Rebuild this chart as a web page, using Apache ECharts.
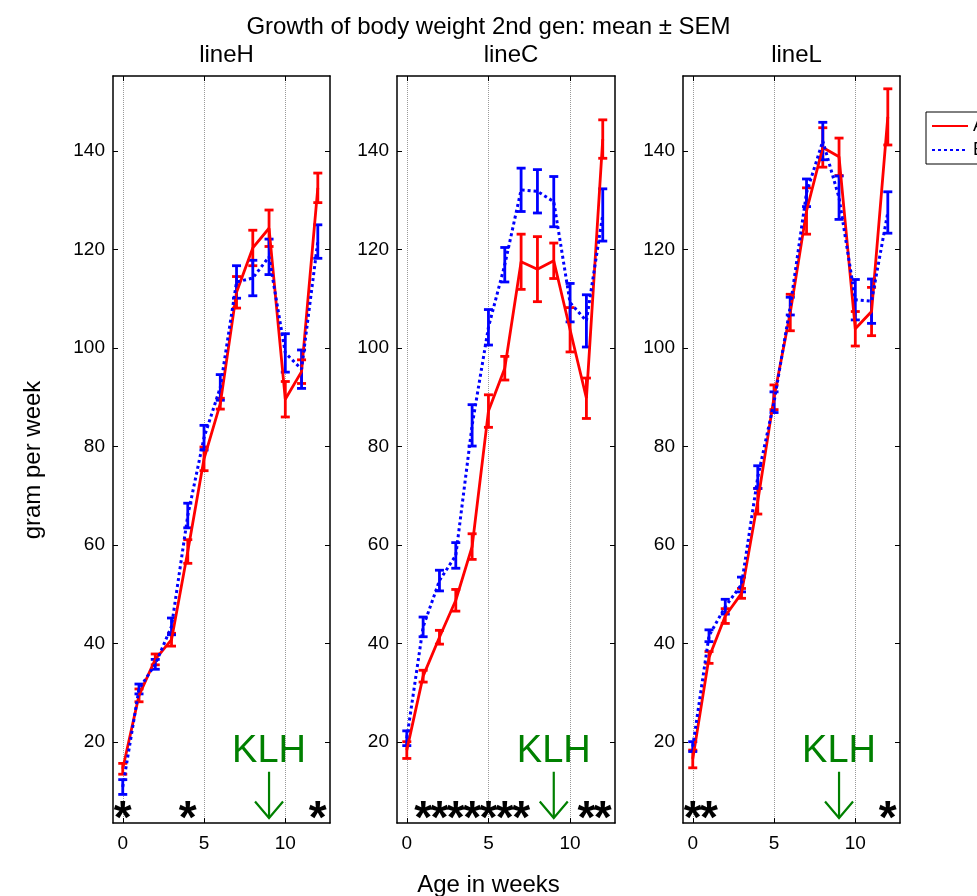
<!DOCTYPE html>
<html><head><meta charset="utf-8">
<script src="https://cdn.jsdelivr.net/npm/echarts@6/dist/echarts.min.js"></script>
<style>html,body{margin:0;padding:0;background:#fff}#c{width:977px;height:896px}</style>
</head><body><div id="c"></div>
<script>
// ---------- data ----------
const weeks = [0,1,2,3,4,5,6,7,8,9,10,11,12];
const panelNames = ['lineH','lineC','lineL'];
const xTicks = [0,5,10];
const yTicks = [20,40,60,80,100,120,140];

// lineH
const hMeanA = [14.6, 29.5, 36.8, 40.8, 58.7, 77.5, 88.7, 111.3, 120.3, 124.3, 89.6, 95.2, 132.5];
const hSemA  = [1.1, 1.3, 1.1, 1.3, 2.4, 2.4, 1.1, 3.2, 3.6, 3.7, 3.6, 2.4, 3.0];
const hMeanB = [10.9, 30.8, 35.8, 43.5, 66.0, 81.8, 92.0, 113.4, 114.2, 118.5, 99.0, 95.7, 121.6];
const hSemB  = [1.5, 1.0, 1.0, 1.7, 2.5, 2.5, 2.6, 3.3, 3.6, 3.6, 3.9, 3.9, 3.4];
// lineC
const cMeanA = [18.4, 33.4, 41.3, 48.8, 59.7, 87.2, 95.9, 117.5, 116.0, 117.7, 103.7, 89.8, 142.4];
const cSemA  = [1.7, 1.2, 1.4, 2.2, 2.6, 3.3, 2.4, 5.6, 6.6, 3.6, 4.5, 4.1, 3.9];
const cMeanB = [20.8, 43.4, 52.8, 57.9, 84.3, 104.2, 116.9, 132.1, 131.8, 129.7, 109.2, 105.5, 127.0];
const cSemB  = [1.5, 2.0, 2.1, 2.6, 4.2, 3.6, 3.5, 4.4, 4.4, 5.1, 3.9, 5.3, 5.3];
// lineL
const lMeanA = [16.6, 37.2, 45.6, 50.2, 68.9, 90.0, 107.2, 127.8, 140.7, 138.8, 103.9, 107.4, 146.9];
const lSemA  = [1.8, 1.2, 1.5, 1.0, 2.6, 2.5, 3.7, 4.7, 4.0, 3.8, 3.5, 4.9, 5.7];
const lMeanB = [19.1, 41.6, 47.5, 52.0, 73.8, 89.0, 108.5, 131.5, 142.0, 130.5, 109.8, 109.5, 127.5];
const lSemB  = [1.0, 1.2, 1.5, 1.5, 2.3, 2.1, 1.8, 2.8, 3.8, 4.4, 4.1, 4.5, 4.2];

// significance stars (weeks)
const sigH = [0, 4, 12];
const sigC = [1, 2, 3, 4, 5, 6, 7, 11, 12];
const sigL = [0, 1, 12];
const starY = 4.2;
// KLH annotation
const klhWeek = 9;
const klhTextY = 18.1;
const klhArrowTop = 14;
const klhArrowTip = 4.6;

const meansA = [hMeanA, cMeanA, lMeanA];
const semsA = [hSemA, cSemA, lSemA];
const meansB = [hMeanB, cMeanB, lMeanB];
const semsB = [hSemB, cSemB, lSemB];
const sigs = [sigH, sigC, sigL];

// ---------- layout ----------
const FF = 'Liberation Sans, Arial, sans-serif';
const gridLefts = [113, 397, 683];
const gridWidths = [217, 218, 217];
const gridTop = 76, gridHeight = 747;
const xMin = -0.6, xMax = 12.75;
const yMin = 3.6, yMax = 155.2;
const RED = '#ff0000', BLUE = '#0000ff', GREEN = '#008000';

const chart = echarts.init(document.getElementById('c'), null, {renderer:'canvas'});

const grids = [], xAxes = [], yAxes = [], series = [], titles = [];
titles.push({text:'Growth of body weight 2nd gen: mean ± SEM', left:'center', top:10,
  textStyle:{fontSize:24, fontWeight:'normal', color:'#000', fontFamily:FF}});
titles.push({text:'Age in weeks', left:'center', top:868,
  textStyle:{fontSize:24, fontWeight:'normal', color:'#000', fontFamily:FF}});

const axLine = {show:true, onZero:false, lineStyle:{color:'#000', width:1.5}};

for (let i = 0; i < 3; i++) {
  grids.push({left:gridLefts[i], top:gridTop, width:gridWidths[i], height:gridHeight, containLabel:false});
  titles.push({text:panelNames[i], left:gridLefts[i] + gridWidths[i]/2, top:38, textAlign:'center',
    textStyle:{fontSize:24, fontWeight:'normal', color:'#000', fontFamily:FF}});
  xAxes.push({type:'value', gridIndex:i, position:'bottom', min:xMin, max:xMax,
    axisLine:axLine,
    axisTick:{show:true, inside:true, length:5, customValues:xTicks, lineStyle:{color:'#000', width:1}},
    axisLabel:{show:true, customValues:xTicks, fontSize:19, color:'#000', margin:11, fontFamily:FF},
    splitLine:{show:true, lineStyle:{color:'#999', type:'dotted', width:1}}});
  xAxes.push({type:'value', gridIndex:i, position:'top', min:xMin, max:xMax,
    axisLine:axLine,
    axisTick:{show:true, inside:true, length:5, customValues:xTicks, lineStyle:{color:'#000', width:1}},
    axisLabel:{show:false}, splitLine:{show:false}});
  yAxes.push({type:'value', gridIndex:i, position:'left', min:yMin, max:yMax,
    axisLine:axLine,
    axisTick:{show:true, inside:true, length:5, customValues:yTicks, lineStyle:{color:'#000', width:1}},
    axisLabel:{show:true, customValues:yTicks, fontSize:19, color:'#000', margin:8, fontFamily:FF},
    splitLine:{show:false}});
  yAxes.push({type:'value', gridIndex:i, position:'right', min:yMin, max:yMax,
    axisLine:axLine,
    axisTick:{show:true, inside:true, length:5, customValues:yTicks, lineStyle:{color:'#000', width:1}},
    axisLabel:{show:false}, splitLine:{show:false}});

  const xi = i*2, yi = i*2;
  const addSeries = (name, color, mean, sem, dotted) => {
    series.push({type:'line', name, xAxisIndex:xi, yAxisIndex:yi, symbol:'none', clip:false,
      data: weeks.map((w,k)=>[w, mean[k]]),
      lineStyle:{color, width:dotted ? 3 : 2.8, type: dotted ? [3,3] : 'solid'}, itemStyle:{color}});
    series.push({type:'custom', name, xAxisIndex:xi, yAxisIndex:yi,
      data: weeks.map((w,k)=>[w, mean[k]-sem[k], mean[k]+sem[k]]),
      encode:{x:0, y:[1,2]}, itemStyle:{color},
      renderItem(params, api){
        const x = api.value(0);
        const p1 = api.coord([x, api.value(1)]);
        const p2 = api.coord([x, api.value(2)]);
        const hw = 4.5;
        const st = {stroke:color, lineWidth:2.8, fill:null};
        return {type:'group', children:[
          {type:'line', shape:{x1:p1[0], y1:p1[1], x2:p2[0], y2:p2[1]}, style:st},
          {type:'line', shape:{x1:p1[0]-hw, y1:p1[1], x2:p1[0]+hw, y2:p1[1]}, style:st},
          {type:'line', shape:{x1:p2[0]-hw, y1:p2[1], x2:p2[0]+hw, y2:p2[1]}, style:st}
        ]};
      }});
  };
  addSeries('A', RED, meansA[i], semsA[i], false);
  addSeries('B', BLUE, meansB[i], semsB[i], true);

  // stars
  series.push({type:'custom', name:'sig'+i, xAxisIndex:xi, yAxisIndex:yi,
    data: sigs[i].map(w=>[w, starY]), encode:{x:0, y:1},
    renderItem(params, api){
      const p = api.coord([api.value(0), api.value(1)]);
      return {type:'text', x:p[0], y:p[1], style:{text:'*', fill:'#000', fontSize:46,
        fontFamily:FF, fontWeight:'bold', align:'center', verticalAlign:'middle'}};
    }});
  // KLH text + arrow
  series.push({type:'custom', name:'klh'+i, xAxisIndex:xi, yAxisIndex:yi,
    data: [[klhWeek, klhTextY, klhArrowTop, klhArrowTip]], encode:{x:0, y:1},
    renderItem(params, api){
      const w = api.value(0);
      const pt = api.coord([w, api.value(1)]);
      const pa = api.coord([w, api.value(2)]);
      const pb = api.coord([w, api.value(3)]);
      const st = {stroke:GREEN, lineWidth:2.2, fill:null};
      return {type:'group', children:[
        {type:'text', x:pt[0], y:pt[1], style:{text:'KLH', fill:GREEN, fontSize:38, fontFamily:FF,
          align:'center', verticalAlign:'middle'}},
        {type:'line', shape:{x1:pa[0], y1:pa[1], x2:pb[0], y2:pb[1]}, style:st},
        {type:'polyline', shape:{points:[[pb[0]-14, pb[1]-16.5],[pb[0], pb[1]],[pb[0]+14, pb[1]-16.5]]}, style:st}
      ]};
    }});
}

chart.setOption({
  animation:false,
  backgroundColor:'#fff',
  title: titles,
  grid: grids,
  xAxis: xAxes,
  yAxis: yAxes,
  legend: {data:['A','B'], orient:'vertical', left:926, top:112, padding:[5,5,5,5],
    itemWidth:36, itemHeight:14, itemGap:6, borderColor:'#000', borderWidth:1,
    backgroundColor:'#fff', selectedMode:false,
    itemStyle:{opacity:0},
    textStyle:{fontSize:18, lineHeight:18, color:'#000', fontFamily:FF}},
  graphic: [{type:'text', x:33, y:460, rotation:Math.PI/2,
    style:{text:'gram per week', fontSize:24, fontFamily:FF, fill:'#000', align:'center', verticalAlign:'middle'}}],
  series: series
});
</script>
</body></html>
